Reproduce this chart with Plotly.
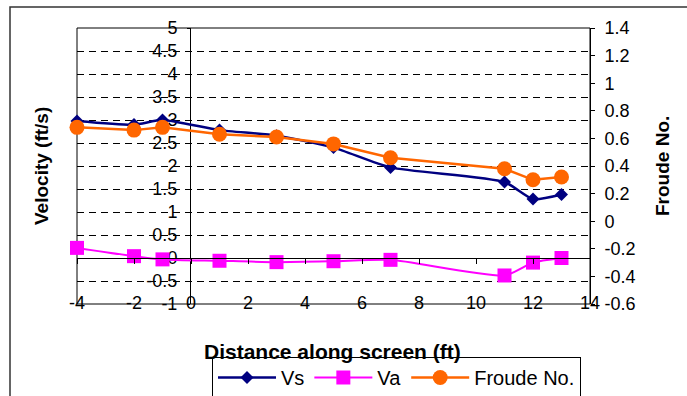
import plotly.graph_objects as go

# ---- data ----
distance = [-4, -2, -1, 1, 3, 5, 7, 11, 12, 13]
vs = [2.98, 2.9, 3.0, 2.78, 2.66, 2.4, 1.97, 1.65, 1.28, 1.38]
va = [0.22, 0.04, -0.03, -0.06, -0.09, -0.07, -0.04, -0.38, -0.1, 0.0]
froude = [0.68, 0.66, 0.68, 0.63, 0.61, 0.56, 0.46, 0.38, 0.30, 0.32]

x_ticks = [-4, -2, 0, 2, 4, 6, 8, 10, 12, 14]
x_ticktext = ["-4", "-2", "0", "2", "4", "6", "8", "10", "12", "14"]
y_ticks = [-1, -0.5, 0, 0.5, 1, 1.5, 2, 2.5, 3, 3.5, 4, 4.5, 5]
y_ticktext = ["-1", "-0.5", "0", "0.5", "1", "1.5", "2", "2.5", "3", "3.5", "4", "4.5", "5"]
y2_ticks = [-0.6, -0.4, -0.2, 0, 0.2, 0.4, 0.6, 0.8, 1, 1.2, 1.4]
y2_ticktext = ["-0.6", "-0.4", "-0.2", "0", "0.2", "0.4", "0.6", "0.8", "1", "1.2", "1.4"]

FONT = "Liberation Sans, Arial, sans-serif"
W, H = 687, 396
L, R, T, B = 77, 97, 28, 92
pw, ph = W - L - R, H - T - B

def px_x(p):
    return (p - L) / pw

def px_y(p):
    return (H - B - p) / ph

fig = go.Figure()
fig.add_trace(go.Scatter(
    x=distance, y=vs, name="Vs", mode="lines+markers", cliponaxis=False,
    line=dict(color="#000080", width=2.5, shape="spline", smoothing=0.6),
    marker=dict(symbol="diamond", size=10, color="#000080"),
    xaxis="x", yaxis="y"))
fig.add_trace(go.Scatter(
    x=distance, y=va, name="Va", mode="lines+markers", cliponaxis=False,
    line=dict(color="#FF00FF", width=2, shape="spline", smoothing=0.6),
    marker=dict(symbol="square", size=14, color="#FF00FF"),
    xaxis="x2", yaxis="y"))
fig.add_trace(go.Scatter(
    x=distance, y=froude, name="Froude No.", mode="lines+markers", cliponaxis=False,
    line=dict(color="#FF6600", width=2.5),
    marker=dict(symbol="circle", size=15, color="#FF6600"),
    xaxis="x", yaxis="y2"))

fig.update_layout(
    width=W, height=H,
    margin=dict(l=L, r=R, t=T, b=B, autoexpand=False),
    paper_bgcolor="white", plot_bgcolor="white",
    font=dict(family=FONT, size=18, color="black"),
    showlegend=True,
    legend=dict(orientation="h", x=px_x(212), y=px_y(357), xanchor="left", yanchor="top",
                bordercolor="black", borderwidth=1, bgcolor="white",
                font=dict(family=FONT, size=20, color="black"), itemwidth=58,
                traceorder="normal"),
    xaxis=dict(range=[-4, 14], tickvals=x_ticks, ticktext=x_ticktext,
               anchor="free", position=px_y(290), showline=False, ticks="",
               showgrid=False, zeroline=False, tickfont=dict(size=18)),
    xaxis2=dict(range=[-4, 14], matches="x", overlaying="x", tickvals=x_ticks,
                anchor="free", position=1/6, showline=True, linecolor="black", linewidth=1,
                ticks="outside", ticklen=5, tickcolor="black", showticklabels=False,
                showgrid=False, zeroline=False),
    yaxis=dict(range=[-1, 5], tickvals=y_ticks, ticktext=y_ticktext,
               anchor="free", position=px_x(190), showline=True, linecolor="black", linewidth=1,
               ticks="outside", ticklen=3, tickcolor="black", ticklabelstandoff=6,
               showgrid=True, gridcolor="black", gridwidth=1, griddash="7px,5px",
               zeroline=False, layer="below traces", tickfont=dict(size=18)),
    yaxis2=dict(range=[-0.6, 1.4], tickvals=y2_ticks, ticktext=y2_ticktext,
                overlaying="y", side="right", anchor="x",
                showline=True, linecolor="black", linewidth=1,
                ticks="outside", ticklen=4, tickcolor="black", ticklabelstandoff=6,
                showgrid=False, zeroline=False, tickfont=dict(size=18)),
    shapes=[
        dict(type="rect", xref="paper", yref="paper", x0=0, y0=0, x1=1, y1=1,
             line=dict(color="black", width=1), layer="between"),
        dict(type="rect", xref="paper", yref="paper", x0=px_x(10), y0=px_y(410),
             x1=px_x(700), y1=px_y(7), line=dict(color="#333333", width=1.5), layer="below"),
    ],
    annotations=[
        dict(text="<b>Velocity (ft/s)</b>", xref="paper", yref="paper", x=px_x(41), y=0.5,
             textangle=-90, showarrow=False, font=dict(size=19, family=FONT),
             xanchor="center", yanchor="middle"),
        dict(text="<b>Froude No.</b>", xref="paper", yref="paper", x=px_x(662), y=0.5,
             textangle=-90, showarrow=False, font=dict(size=19, family=FONT),
             xanchor="center", yanchor="middle"),
        dict(text="<b>Distance along screen (ft)</b>", xref="paper", yref="paper",
             x=px_x(332), y=px_y(352), showarrow=False, font=dict(size=21, family=FONT),
             xanchor="center", yanchor="middle"),
    ],
)

fig.write_html("out.html")
